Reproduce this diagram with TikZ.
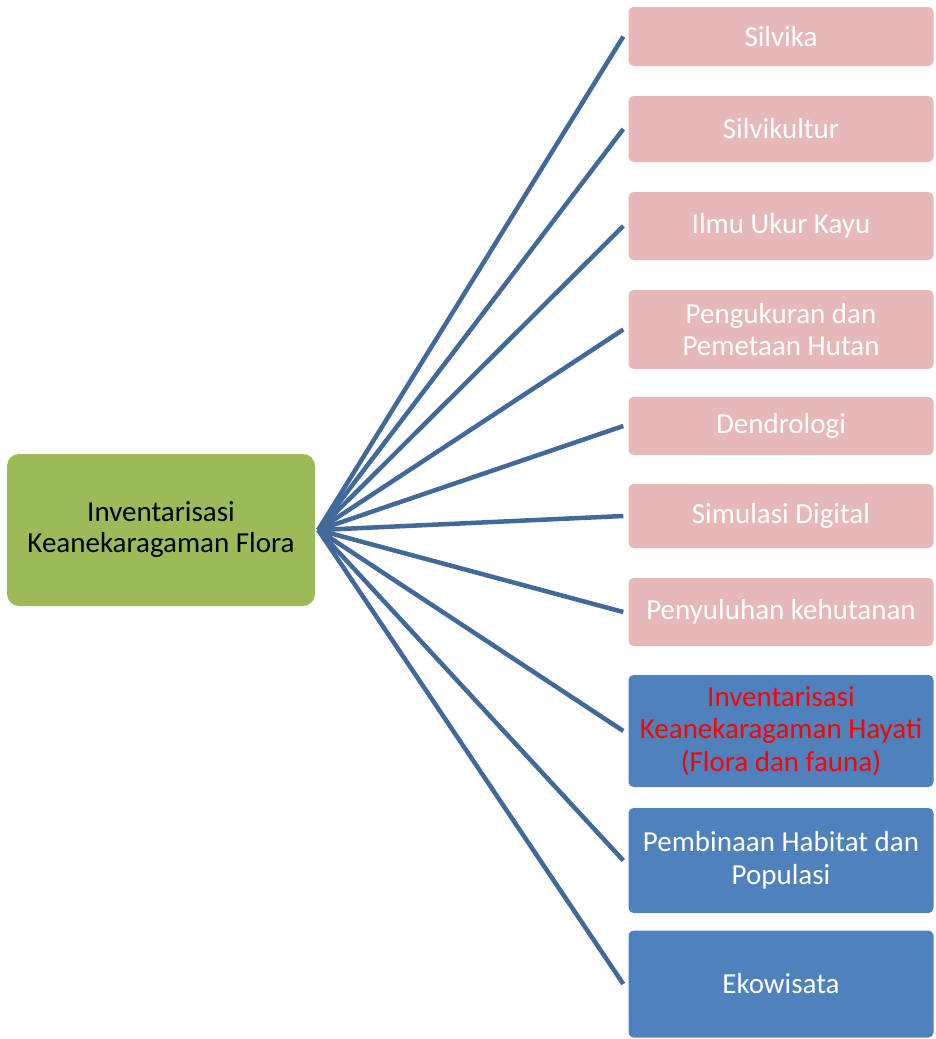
\documentclass[tikz,border=0pt]{standalone}
\usepackage{fontspec}
\setmainfont{Carlito}
\definecolor{pinkbox}{HTML}{E6B9B8}
\definecolor{bluebox}{HTML}{4F81BD}
\definecolor{greenbox}{HTML}{9BBB59}
\definecolor{linkcol}{HTML}{41699A}
\definecolor{redtext}{HTML}{FF0000}
\tikzset{
  leaf/.style={rectangle, rounded corners=5pt, minimum width=305pt, inner sep=0pt, align=center,
    font=\fontsize{29}{32.5}\selectfont},
  pinkleaf/.style={leaf, fill=pinkbox, text=white},
  blueleaf/.style={leaf, fill=bluebox, text=white},
  hub/.style={rectangle, rounded corners=12pt, fill=greenbox, minimum width=308pt, minimum height=152pt,
    inner sep=0pt, align=center, text=black, font=\fontsize{29}{31}\selectfont},
  link/.style={draw=linkcol, line width=4.5pt}
}
\begin{document}
\begin{tikzpicture}[x=1pt,y=-1pt]
\useasboundingbox (0,0) rectangle (935,1039);
\node[hub] (root) at (161,530) {Inventarisasi\\Keanekaragaman Flora};
\node[pinkleaf, minimum height=59pt] (n1) at (781,36.5) {Silvika};
\node[pinkleaf, minimum height=66pt] (n2) at (781,129) {Silvikultur};
\node[pinkleaf, minimum height=68pt] (n3) at (781,226) {Ilmu Ukur Kayu};
\node[pinkleaf, minimum height=79pt] (n4) at (781,329.5) {Pengukuran dan\\Pemetaan Hutan};
\node[pinkleaf, minimum height=58pt] (n5) at (781,426) {Dendrologi};
\node[pinkleaf, minimum height=64pt] (n6) at (781,516) {Simulasi Digital};
\node[pinkleaf, minimum height=68pt] (n7) at (781,612) {Penyuluhan kehutanan};
\node[blueleaf, minimum height=112pt, text=redtext] (n8) at (781,731) {Inventarisasi\\Keanekaragaman Hayati\\(Flora dan fauna)};
\node[blueleaf, minimum height=105pt] (n9) at (781,860.5) {Pembinaan Habitat dan\\Populasi};
\node[blueleaf, minimum height=107pt] (n10) at (781,984) {Ekowisata};
\coordinate (hubpt) at ([xshift=3pt]root.east);
\foreach \n in {n1,n2,n3,n4,n5,n6,n7,n8,n9,n10}{
  \draw[link] (hubpt) -- ([xshift=-5pt]\n.west);
}
\end{tikzpicture}
\end{document}
